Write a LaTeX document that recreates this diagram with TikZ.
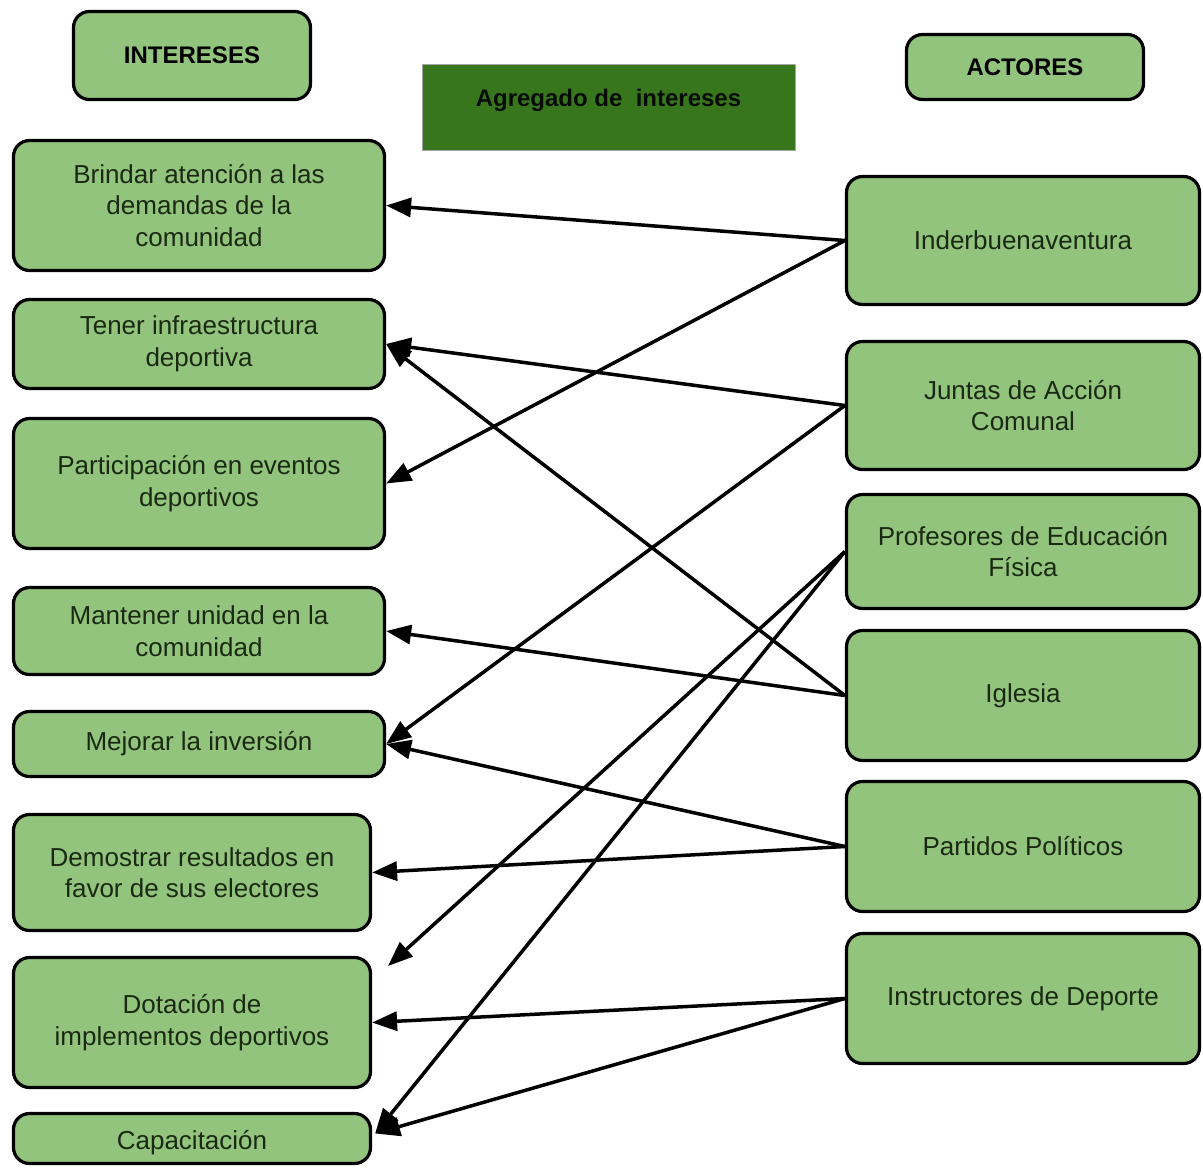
\documentclass[tikz,border=0pt]{standalone}
\usepackage{fontspec}
\setmainfont{Liberation Sans}
\usetikzlibrary{arrows.meta}
\definecolor{boxfill}{HTML}{93C47D}
\definecolor{darkfill}{HTML}{38761D}
\definecolor{ink}{HTML}{1A2A12}

\begin{document}
\begin{tikzpicture}[x=1pt,y=-1pt,
  box/.style={draw=black, line width=3.2pt, rounded corners=16pt, fill=boxfill,
    text=ink, align=center, inner sep=0pt,
    font=\fontsize{26}{31.5}\selectfont},
  head/.style={box, text=black, font=\fontsize{24}{28}\selectfont\bfseries},
  lbox/.style={box, minimum width=371pt},
  nbox/.style={box, minimum width=357pt},
  rbox/.style={box, minimum width=353pt},
  arr/.style={line width=3.5pt, line join=round, -{Triangle[length=25pt,width=19pt]}}]

\useasboundingbox (0,0) rectangle (1203,1168);

% column headers
\node[head, minimum width=237pt, minimum height=88pt] (hint) at (192,55.5) {INTERESES};
\node[head, minimum width=237pt, minimum height=65pt] (hact) at (1025,67) {ACTORES};
\node[draw=black!35, line width=1pt, fill=darkfill, minimum width=373pt,
      minimum height=86pt, inner sep=0pt,
      label={[yshift=7pt, text=black!90!darkfill,
              font=\fontsize{24}{28}\selectfont\bfseries]center:Agregado de\ \ intereses}]
      (agr) at (608.5,107) {};

% interests
\node[lbox, minimum height=130pt] (l1) at (199,205.5) {Brindar atención a las\\demandas de la\\comunidad};
\node[lbox, minimum height=89pt]  (l2) at (199,344) {Tener infraestructura\\deportiva};
\node[lbox, minimum height=130pt] (l3) at (199,483.5) {Participación en eventos\\deportivos};
\node[lbox, minimum height=87pt]  (l4) at (199,631) {Mantener unidad en la\\comunidad};
\node[lbox, minimum height=65pt]  (l5) at (199,744) {Mejorar la inversión};
\node[nbox, minimum height=116pt] (l6) at (192,872.5) {Demostrar resultados en\\favor de sus electores};
\node[nbox, minimum height=130pt] (l7) at (192,1022.5) {Dotación de\\implementos deportivos};
\node[nbox, minimum height=50pt,
      label={[yshift=-4pt, text=ink, font=\fontsize{26}{31.5}\selectfont]center:Capacitación}]
      (l8) at (192,1138.5) {};

% actors
\node[rbox, minimum height=128pt] (r1) at (1023,240.5) {Inderbuenaventura};
\node[rbox, minimum height=128pt] (r2) at (1023,405.5) {Juntas de Acción\\Comunal};
\node[rbox, minimum height=114pt] (r3) at (1023,551.5) {Profesores de Educación\\Física};
\node[rbox, minimum height=130pt] (r4) at (1023,695.5) {Iglesia};
\node[rbox, minimum height=130pt] (r5) at (1023,846.5) {Partidos Políticos};
\node[rbox, minimum height=130pt] (r6) at (1023,998.5) {Instructores de Deporte};

% free ends of connectors
\coordinate (l7tip) at (388,966);
\coordinate (l8tip) at ([xshift=3pt,yshift=5pt]l8.east);

% actor -> interest
\draw[arr] (r1.west) -- (l1.east);
\draw[arr] (r1.west) -- (l3.east);
\draw[arr] (r2.west) -- (l2.east);
\draw[arr] (r2.west) -- (l5.east);
\draw[arr] (r3.west) -- (l7tip);
\draw[arr] (r3.west) -- (l8tip);
\draw[arr] (r4.west) -- (l2.east);
\draw[arr] (r4.west) -- (l4.east);
\draw[arr] (r5.west) -- (l5.east);
\draw[arr] (r5.west) -- (l6.east);
\draw[arr] (r6.west) -- (l7.east);
\draw[arr] (r6.west) -- (l8tip);
\end{tikzpicture}
\end{document}
